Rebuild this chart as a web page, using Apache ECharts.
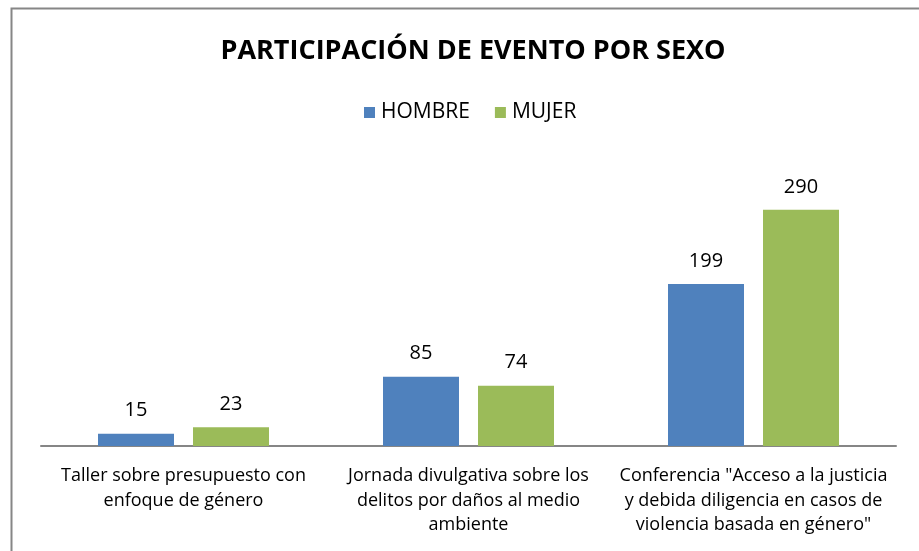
<!DOCTYPE html>
<html><head><meta charset="utf-8">
<script src="https://cdn.jsdelivr.net/npm/echarts@6/dist/echarts.min.js"></script>
<style>html,body{margin:0;padding:0;background:#fff}#c{width:919px;height:551px}</style>
</head><body><div id="c"></div>
<script>
const categories = [
  'Taller sobre presupuesto con\nenfoque de género',
  'Jornada divulgativa sobre los\ndelitos por daños al medio\nambiente',
  'Conferencia "Acceso a la justicia\ny debida diligencia en casos de\nviolencia basada en género"'
];
const seriesNames = ['HOMBRE', 'MUJER'];
const hombre = [15, 85, 199];
const mujer = [23, 74, 290];

const font = "'Open Sans', 'Noto Sans', sans-serif";
const chart = echarts.init(document.getElementById('c'));
chart.setOption({
  animation: false,
  backgroundColor: '#fff',
  title: {
    text: 'PARTICIPACIÓN DE EVENTO POR SEXO',
    left: 468, top: 33, textAlign: 'center',
    textStyle: { fontFamily: font, fontWeight: 'bold', fontSize: 27, color: '#000' }
  },
  legend: {
    top: 102, left: 364, padding: 0,
    itemWidth: 11, itemHeight: 11, itemGap: 25,
    icon: 'rect',
    textStyle: { fontFamily: font, fontSize: 21, color: '#000', padding: [0,0,0,1] },
    data: seriesNames
  },
  grid: { left: 41, right: 23, top: 161, bottom: 105 },
  xAxis: {
    type: 'category', data: categories,
    axisLine: { lineStyle: { color: '#868686', width: 2 } },
    axisTick: { show: false },
    axisLabel: { interval: 0, fontFamily: font, fontSize: 18, color: '#000', lineHeight: 24.5, margin: 18 }
  },
  yAxis: { type: 'value', min: 0, max: 350, show: false, splitLine: { show: false } },
  series: [
    { name: seriesNames[0], type: 'bar', data: hombre, barGap: '25%', barCategoryGap: '40%',
      itemStyle: { color: '#4f81bd' },
      label: { show: true, position: 'top', distance: 13, fontFamily: font, fontSize: 20, color: '#000' } },
    { name: seriesNames[1], type: 'bar', data: mujer,
      itemStyle: { color: '#9bbb59' },
      label: { show: true, position: 'top', distance: 13, fontFamily: font, fontSize: 20, color: '#000' } }
  ],
  graphic: [
    { type: 'rect', shape: { x: 11.5, y: 8.5, width: 930, height: 560 }, style: { fill: 'none', stroke: '#868686', lineWidth: 2 }, silent: true }
  ]
});
</script></body></html>
